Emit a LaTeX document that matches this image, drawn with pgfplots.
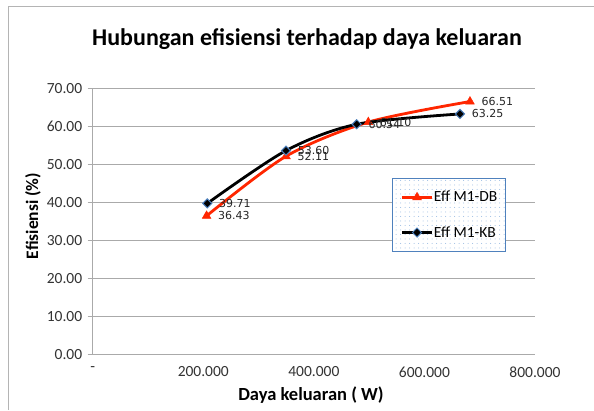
\documentclass[border=0pt]{standalone}
\usepackage{pgfplots}
\pgfplotsset{compat=1.18}
\usepackage{pgfplotstable}
\usepackage{fontspec}
\setmainfont{Carlito}
\newfontfamily\dejavu{DejaVu Sans}
\usetikzlibrary{patterns.meta}
\definecolor{exred}{RGB}{255,38,0}
\definecolor{gridgray}{RGB}{170,170,170}
\definecolor{legblue}{RGB}{79,129,189}
\definecolor{dotblue}{RGB}{150,185,225}
\definecolor{diablue}{RGB}{74,126,187}
\definecolor{framegray}{RGB}{180,180,180}

\pgfplotstableread{
x y label
206000 36.43 36.43
349600 52.11 52.11
498500 61.10 61.10
682400 66.51 66.51
}\redtab
\pgfplotstableread{
x y label
207300 39.71 39.71
349600 53.60 53.60
477500 60.54 60.54
664300 63.25 63.25
}\blacktab

\begin{document}
\begin{tikzpicture}[x=1pt,y=1pt]
\useasboundingbox (0,0) rectangle (594,410);
\draw[framegray, line width=1pt] (8,0) -- (8,403) -- (594,403);
\begin{axis}[
  at={(92.7pt,55.7pt)}, anchor=south west,
  scale only axis, width=442.3pt, height=266pt,
  xmin=0, xmax=800000, ymin=0, ymax=70,
  axis x line*=bottom, axis y line*=left,
  axis line style={gridgray, line width=1.2pt},
  xtick={0,200000,400000,600000,800000},
  xticklabels={-,200.000,400.000,600.000,800.000},
  scaled x ticks=false,
  xtick style={draw=none},
  ytick={0,10,...,70},
  ymajorgrids, grid style={gridgray, line width=1.2pt},
  tick align=outside, major tick length=5pt,
  ytick style={gridgray, line width=1.2pt},
  tick label style={font=\fontsize{15.5}{17}\selectfont, text=black!80},
  yticklabel style={xshift=-2pt, /pgf/number format/.cd, fixed, fixed zerofill, precision=2, assume math mode=true},
  xticklabel style={yshift=-4pt},
  title={Hubungan efisiensi terhadap daya keluaran},
  title style={font=\bfseries\fontsize{24}{28}\selectfont, at={(axis description cs:0.4845,1.163)}, anchor=center},
  xlabel={Daya keluaran ( W)},
  xlabel style={font=\bfseries\fontsize{18.5}{21}\selectfont, at={(axis description cs:0.4936,-0.153)}, anchor=center},
  ylabel={Efisiensi (\%)},
  ylabel style={font=\bfseries\fontsize{17.5}{20}\selectfont, at={(axis description cs:-0.135,0.52)}, anchor=center, rotate=0},
  legend style={at={(axis description cs:0.677,0.662)}, anchor=north west,
    draw=legblue, line width=1pt, fill=white,
    postaction={pattern={Dots[distance=4.5pt,radius=0.5pt]}, pattern color=dotblue},
    inner xsep=8pt, inner ysep=12pt, row sep=22pt,
    font=\fontsize{15.5}{17}\selectfont,
    nodes={inner sep=0.5pt}},
  legend cell align=left,
  legend image code/.code={\draw[mark repeat=2,mark phase=2,#1] plot coordinates {(0pt,0pt) (15pt,0pt) (30pt,0pt)};},
  nodes near coords,
  point meta=explicit symbolic,
  nodes near coords style={anchor=west, xshift=8pt, font=\dejavu\fontsize{11}{12}\selectfont, text=black!85},
]
\addplot[exred, line width=2.8pt, smooth, mark=triangle*, mark size=5pt, mark options={fill=exred, draw=exred, line width=0.5pt}]
  table[x=x, y=y, meta=label] {\redtab};
\addlegendentry{Eff M1-DB}
\addplot[black, line width=2.8pt, smooth, mark=square*, mark size=3.2pt, mark options={rotate=45, fill=black, draw=diablue, line width=1pt}]
  table[x=x, y=y, meta=label] {\blacktab};
\addlegendentry{Eff M1-KB}
\end{axis}
\end{tikzpicture}
\end{document}
